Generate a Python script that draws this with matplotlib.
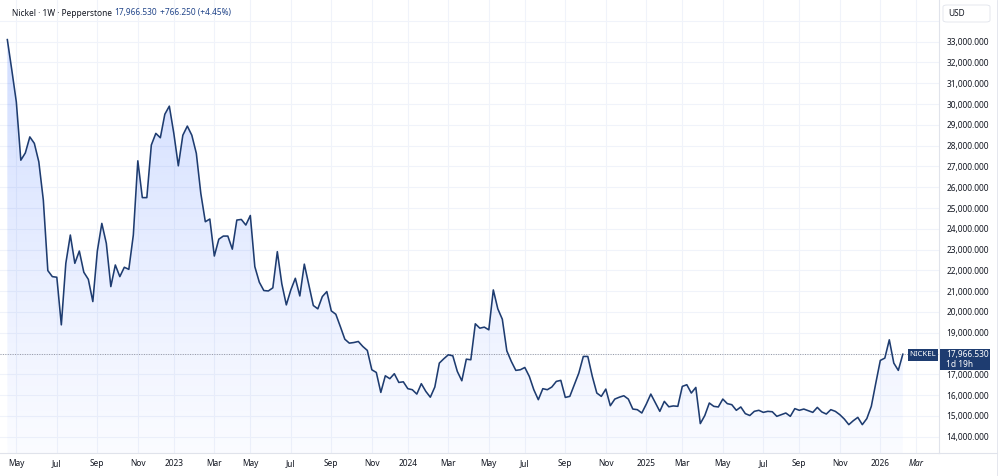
import numpy as np
import pandas as pd
import matplotlib
matplotlib.use("Agg")
import matplotlib.pyplot as plt
import matplotlib.dates as mdates
from matplotlib.patches import Rectangle, FancyBboxPatch
from matplotlib.lines import Line2D
from matplotlib.ticker import FuncFormatter

# ---------------- data ----------------
start_date = "2022-04-18"
prices = [
    33100, 31630, 30100, 27300, 27650, 28420, 28110, 27220, 25380, 21990,
    21700, 21670, 19380, 22340, 23700, 22340, 22930, 21910, 21570, 20500,
    22930, 24260, 23300, 21220, 22260, 21700, 22150, 22050, 23700, 27270,
    25500, 25500, 28030, 28590, 28380, 29510, 29900, 28590, 27030, 28500,
    28940, 28500, 27630, 25700, 24340, 24470, 22690, 23500, 23650, 23650,
    23020, 24420, 24450, 24180, 24640, 22180, 21430, 21030, 21010, 21160,
    22900, 21350, 20340, 21060, 21620, 20770, 22300, 21300, 20310, 20150,
    20740, 20980, 20050, 19890, 19300, 18690, 18500, 18530, 18580, 18340,
    18150, 17220, 17090, 16130, 16930, 16790, 17030, 16610, 16640, 16310,
    16260, 16050, 16550, 16180, 15900, 16390, 17540, 17750, 17940, 17890,
    17140, 16690, 17730, 17700, 19430, 19220, 19270, 19140, 21060, 20150,
    19650, 18130, 17620, 17190, 17220, 17330, 16900, 16260, 15780, 16310,
    16260, 16390, 16660, 16710, 15890, 15940, 16500, 17060, 17860, 17860,
    16900, 16100, 15940, 16290, 15490, 15810, 15900, 15970, 15810, 15330,
    15300, 15140, 15570, 16050, 15630, 15220, 15700, 15440, 15480, 15460,
    16420, 16500, 16100, 16370, 14630, 15020, 15620, 15460, 15430, 15810,
    15590, 15540, 15270, 15430, 15110, 15020, 15220, 15270, 15170, 15220,
    15200, 14980, 15060, 15140, 14980, 15350, 15270, 15330, 15250, 15170,
    15410, 15190, 15090, 15300, 15220, 15060, 14850, 14580, 14770, 14930,
    14580, 14870, 15460, 16580, 17670, 17780, 18660, 17540, 17190, 17966.53,
]
last_price = 17966.530
change_abs = 766.250
change_pct = 4.45
symbol = "NICKEL"
title_text = "Nickel · 1W · Pepperstone"
countdown = "1d 19h"
currency = "USD"

y_ticks = list(range(14000, 33001, 1000))
x_tick_months = ["2022-05", "2022-07", "2022-09", "2022-11", "2023-01", "2023-03",
                 "2023-05", "2023-07", "2023-09", "2023-11", "2024-01", "2024-03",
                 "2024-05", "2024-07", "2024-09", "2024-11", "2025-01", "2025-03",
                 "2025-05", "2025-07", "2025-09", "2025-11", "2026-01", "2026-03"]
x_tick_labels = ["May", "Jul", "Sep", "Nov", "2023", "Mar", "May", "Jul", "Sep", "Nov",
                 "2024", "Mar", "May", "Jul", "Sep", "Nov", "2025", "Mar", "May", "Jul",
                 "Sep", "Nov", "2026", "Mar"]

# ---------------- style ----------------
plt.rcParams["font.family"] = ["Noto Sans", "DejaVu Sans"]
LINE = "#1e3c70"
TXT = "#131722"
GRID = "#f0f3fa"
BORDER = "#e0e3eb"
FS = 6.0

dates = pd.date_range(start_date, periods=len(prices), freq="7D")
xd = mdates.date2num(dates)
y = np.array(prices, dtype=float)

def first_monday(m):
    d = pd.Timestamp(m + "-01")
    return d + pd.Timedelta(days=(7 - d.weekday()) % 7)

tick_pos = [mdates.date2num(first_monday(m)) for m in x_tick_months]

W, H = 1000, 476
fig = plt.figure(figsize=(W / 100, H / 100), dpi=100)
fig.patch.set_facecolor("white")
ax = fig.add_axes([0, 23 / H, 939 / W, 453 / H])

x0 = mdates.date2num(pd.Timestamp(start_date)) - 11.4
x1 = mdates.date2num(pd.Timestamp(start_date)) + 1449.3
ylo, yhi = 13216, 35005

# gradient fill clipped to area under line
poly = ax.fill_between(xd, y, ylo, color="none", lw=0)
grad = np.linspace(0.02, 0.23, 256)
rgba = np.zeros((256, 1, 4))
rgba[..., 0] = 41 / 255
rgba[..., 1] = 98 / 255
rgba[..., 2] = 1.0
rgba[:, 0, 3] = grad
im = ax.imshow(rgba, extent=[x0, x1, ylo, yhi], origin="lower", aspect="auto",
               zorder=1, interpolation="bilinear")
path = poly.get_paths()[0]
im.set_clip_path(path, transform=ax.transData)

ax.plot(xd, y, color=LINE, lw=1.15, zorder=3, solid_joinstyle="round")
ax.axhline(last_price, color="#9598a1", lw=0.7, ls=(0, (1, 1.5)), zorder=2)

ax.set_xlim(x0, x1)
ax.set_ylim(ylo, yhi)

# grid
for t in y_ticks + [y_ticks[-1] + 1000]:
    ax.axhline(t, color=GRID, lw=0.8, zorder=0)
for t in tick_pos:
    ax.axvline(t, color=GRID, lw=0.8, zorder=0)

ax.yaxis.tick_right()
ax.set_yticks(y_ticks)
ax.yaxis.set_major_formatter(FuncFormatter(
    lambda v, p: "" if abs(v - 18000) < 1 else f"{v:,.3f}"))
ax.tick_params(axis="y", length=0, pad=5.5, labelsize=FS, labelcolor=TXT)
ax.set_xticks(tick_pos)
ax.set_xticklabels(x_tick_labels)
ax.tick_params(axis="x", length=0, pad=4.5, labelsize=FS, labelcolor=TXT)
for lab in ax.get_xticklabels():
    if lab.get_text().isdigit():
        lab.set_fontweight("bold")
ax.get_xticklabels()[-1].set_fontstyle("italic")

for s in ["top", "left"]:
    ax.spines[s].set_visible(False)
for s in ["right", "bottom"]:
    ax.spines[s].set_color(BORDER)
    ax.spines[s].set_linewidth(0.8)

# bottom line across price axis
fig.add_artist(Line2D([939 / W, 997 / W], [23 / H, 23 / H], color=BORDER, lw=0.8,
                      transform=fig.transFigure))
fig.add_artist(Line2D([997 / W, 997 / W], [0, 1], color=BORDER, lw=0.6,
                      transform=fig.transFigure))

# title
fig.text(12 / W, 1 - 13 / H, title_text, fontsize=FS, color=TXT, va="center", ha="left")
fig.text(114 / W, 1 - 13 / H, f"{last_price:,.3f}", fontsize=FS, color="#23468a",
         va="center", ha="left")
fig.text(160 / W, 1 - 13 / H, f"+{change_abs:,.3f} (+{change_pct:.2f}%)", fontsize=FS,
         color="#23468a", va="center", ha="left")

# currency box
fig.add_artist(FancyBboxPatch((943 / W, 1 - 22 / H), 47 / W, 17 / H,
                              boxstyle="round,pad=0,rounding_size=0.004",
                              transform=fig.transFigure, facecolor="white",
                              edgecolor=BORDER, lw=0.6, zorder=5))
fig.text(948 / W, 1 - 13.5 / H, currency, fontsize=FS, color=TXT, va="center",
         ha="left", zorder=6)

# last-price labels
fig.add_artist(Rectangle((940 / W, 1 - 370 / H), 50 / W, 21 / H, transform=fig.transFigure,
                         facecolor=LINE, edgecolor="none", zorder=5))
fig.text(946 / W, 1 - 354.5 / H, f"{last_price:,.3f}", fontsize=FS, color="white",
         va="center", ha="left", zorder=6)
fig.text(946 / W, 1 - 364.5 / H, countdown, fontsize=FS, color="white",
         va="center", ha="left", zorder=6)
fig.add_artist(Rectangle((908 / W, 1 - 361 / H), 30 / W, 12 / H, transform=fig.transFigure,
                         facecolor=LINE, edgecolor="none", zorder=5))
fig.text(923 / W, 1 - 355 / H, symbol, fontsize=FS - 0.4, color="white",
         va="center", ha="center", zorder=6)

fig.savefig("out.png", dpi=100, facecolor="white")
